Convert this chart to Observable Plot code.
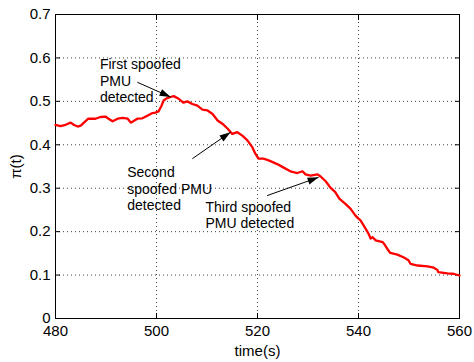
<!DOCTYPE html>
<html>
<head>
<meta charset="utf-8">
<script src="https://cdn.jsdelivr.net/npm/d3@7"></script>
<script src="https://cdn.jsdelivr.net/npm/@observablehq/plot@0.6"></script>
<style>
  html, body { margin: 0; padding: 0; background: #fff; }
  #chart { width: 474px; height: 362px; }
</style>
</head>
<body>
<div id="chart"></div>
<script>
// time (s)
const time = [
  480.0, 481.0, 482.0, 483.0, 483.6, 484.4, 485.0, 485.9, 486.5, 487.9,
  488.9, 489.9, 490.5, 491.3, 492.3, 493.3, 494.3, 494.9, 495.4, 496.2,
  497.2, 498.2, 499.2, 499.8, 500.4, 501.0, 501.4, 502.0, 502.8, 503.4,
  504.4, 505.3, 506.1, 507.1, 508.1, 509.1, 510.1, 511.1, 512.1, 513.1,
  514.1, 515.0, 516.0, 517.0, 518.0, 519.0, 519.6, 520.2, 521.2, 522.2,
  523.0, 524.0, 525.1, 526.5, 527.9, 528.9, 529.5, 530.5, 531.9, 532.5,
  533.5, 534.4, 535.4, 536.2, 537.4, 538.4, 539.4, 540.0, 540.4, 541.4,
  542.0, 542.4, 542.8, 543.4, 544.8, 545.3, 545.9, 546.3, 547.7, 548.9,
  549.9, 550.3, 551.7, 553.7, 554.9, 555.6, 555.8, 557.6, 558.8, 560.0
];
// pi(t)
const piValues = [
  0.446, 0.443, 0.446, 0.451, 0.446, 0.442, 0.444, 0.454, 0.460, 0.460,
  0.464, 0.465, 0.460, 0.454, 0.460, 0.462, 0.460, 0.451, 0.454, 0.460,
  0.461, 0.467, 0.473, 0.474, 0.477, 0.490, 0.502, 0.507, 0.510, 0.512,
  0.506, 0.497, 0.500, 0.494, 0.490, 0.481, 0.479, 0.471, 0.456, 0.448,
  0.437, 0.425, 0.429, 0.421, 0.410, 0.394, 0.379, 0.368, 0.368, 0.364,
  0.360, 0.355, 0.348, 0.339, 0.335, 0.339, 0.332, 0.329, 0.332, 0.327,
  0.316, 0.302, 0.291, 0.276, 0.264, 0.253, 0.237, 0.230, 0.226, 0.207,
  0.195, 0.184, 0.187, 0.180, 0.176, 0.168, 0.157, 0.151, 0.147, 0.141,
  0.134, 0.126, 0.122, 0.120, 0.117, 0.112, 0.107, 0.104, 0.103, 0.099
];

const xTicks = [480, 500, 520, 540, 560];
const yTicks = [0, 0.1, 0.2, 0.3, 0.4, 0.5, 0.6, 0.7];

// annotations
const noteText = ["First spoofed\nPMU\ndetected", "Second\nspoofed PMU\ndetected", "Third spoofed\nPMU detected"];
const noteX = [488.8, 494.2, 509.7];
const noteY = [0.548, 0.299, 0.239];
const arrowX1 = [496.2, 507.1, 521.9];
const arrowY1 = [0.544, 0.368, 0.283];
const arrowX2 = [502.8, 514.65, 532.1];
const arrowY2 = [0.510, 0.429, 0.325];

const W = 474, H = 362, mL = 55, mR = 15, mT = 14, mB = 44;
const xDomain = [480, 560], yDomain = [0, 0.7];

const series = time.map((t, i) => ({t, v: piValues[i]}));
const notes = noteText.map((s, i) => ({s, x: noteX[i], y: noteY[i]}));

// pixel-space direction of each arrow, via the same scales the plot uses
const sx = Plot.scale({x: {domain: xDomain, range: [mL, W - mR]}});
const sy = Plot.scale({y: {domain: yDomain, range: [H - mB, mT]}});
const arrows = arrowX1.map((x1, i) => {
  const x2 = arrowX2[i], y1 = arrowY1[i], y2 = arrowY2[i];
  const dxp = sx.apply(x2) - sx.apply(x1);
  const dyp = sy.apply(y2) - sy.apply(y1);
  return {x1, y1, x2, y2, angle: Math.atan2(dxp, -dyp) * 180 / Math.PI};
});

// filled, narrow arrowhead whose tip sits at the origin, pointing up
const headSymbol = {
  draw(context) {
    context.moveTo(0, 0);
    context.lineTo(-3.6, 11);
    context.lineTo(3.6, 11);
    context.closePath();
  }
};

const gridStyle = {stroke: "#000", strokeOpacity: 0.75, strokeDasharray: "1,3"};

const chart = Plot.plot({
  width: W,
  height: H,
  marginLeft: mL,
  marginRight: mR,
  marginTop: mT,
  marginBottom: mB,
  style: {fontFamily: "'Liberation Sans', Arial, Helvetica, sans-serif", fontSize: "15px", background: "#fff", color: "#000"},
  x: {domain: xDomain},
  y: {domain: yDomain},
  marks: [
    Plot.gridX(xTicks.slice(1, -1), gridStyle),
    Plot.gridY(yTicks.slice(1, -1), gridStyle),
    Plot.axisX({ticks: xTicks, tickSize: 0, tickPadding: 7, tickFormat: d => String(d), fontSize: 15,
      label: "time(s)", labelAnchor: "center", labelArrow: "none", labelOffset: 37}),
    Plot.axisX(xTicks, {anchor: "bottom", tickSize: -5, text: null, label: null}),
    Plot.axisX(xTicks, {anchor: "top", tickSize: -5, text: null, label: null}),
    Plot.axisY({ticks: yTicks, tickSize: 0, tickPadding: 5, tickFormat: d => d === 0 ? "0" : d.toFixed(1), fontSize: 15,
      label: "π(t)", labelAnchor: "center", labelArrow: "none", labelOffset: 45}),
    Plot.axisY(yTicks, {anchor: "left", tickSize: -5, text: null, label: null}),
    Plot.axisY(yTicks, {anchor: "right", tickSize: -5, text: null, label: null}),
    Plot.frame({stroke: "#000", strokeWidth: 1}),
    Plot.line(series, {x: "t", y: "v", stroke: "#ff0000", strokeWidth: 2.3, strokeLinejoin: "round"}),
    Plot.link(arrows, {x1: "x1", y1: "y1", x2: "x2", y2: "y2", stroke: "#000", strokeWidth: 1}),
    Plot.dot(arrows, {x: "x2", y: "y2", rotate: "angle", symbol: headSymbol, r: 5, fill: "#000", stroke: "none"}),
    Plot.text(notes, {x: "x", y: "y", text: "s", textAnchor: "start", lineAnchor: "middle", lineHeight: 1.18, fontSize: 14, fill: "#000"})
  ]
});
document.getElementById("chart").appendChild(chart);
</script>
</body>
</html>
